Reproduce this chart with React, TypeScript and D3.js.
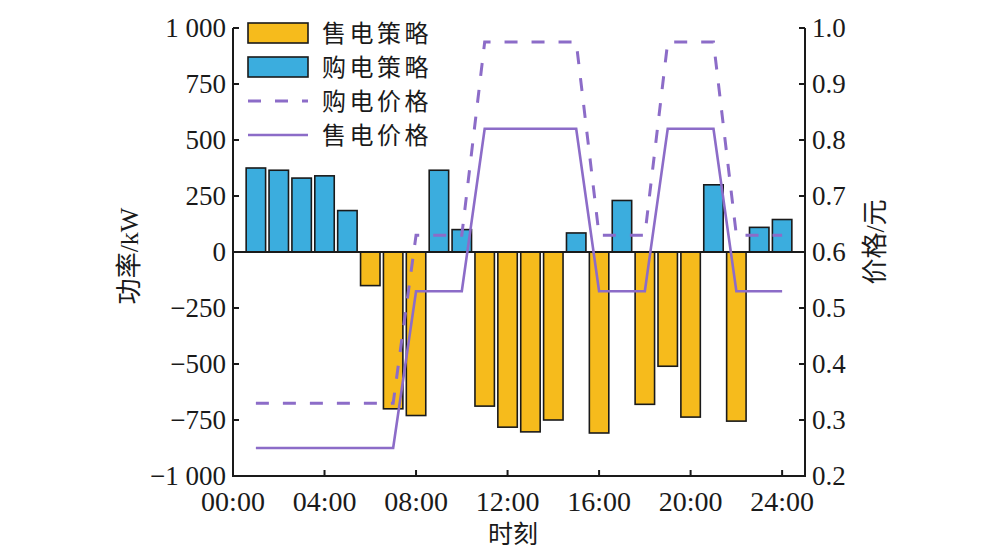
import React from "react";
import * as d3 from "d3";

const W = 998;
const H = 560;
const M = { left: 233, right: 805, top: 28, bottom: 476 };

// hourly strategy, kW (positive = buy, negative = sell)
const hours = d3.range(1, 25);
const power = [
  375, 365, 330, 340, 185, -150, -700, -730, 365, 100, -688, -782,
  -803, -750, 85, -808, 230, -680, -510, -737, 300, -755, 110, 145,
];

// price curves, yuan
const buyPrice: [number, number][] = [
  [1, 0.33], [7, 0.33], [8, 0.63], [10, 0.63], [11, 0.975], [15, 0.975],
  [16, 0.63], [18, 0.63], [19, 0.975], [21, 0.975], [22, 0.63], [24, 0.63],
];
const sellPrice: [number, number][] = [
  [1, 0.25], [7, 0.25], [8, 0.53], [10, 0.53], [11, 0.82], [15, 0.82],
  [16, 0.53], [18, 0.53], [19, 0.82], [21, 0.82], [22, 0.53], [24, 0.53],
];

const xTicks = [0, 4, 8, 12, 16, 20, 24];
const yTicks = [-1000, -750, -500, -250, 0, 250, 500, 750, 1000];
const pTicks = [0.2, 0.3, 0.4, 0.5, 0.6, 0.7, 0.8, 0.9, 1.0];

const ORANGE = "#f6bb1c";
const BLUE = "#3badde";
const PURPLE = "#8c6cc8";
const INK = "#1a1a1a";
const FONT = "'Liberation Serif', 'DejaVu Serif', serif";
const CJK = "'Liberation Serif', 'Noto Sans CJK SC', serif";

const fmtPow = (v: number) => {
  const a = Math.abs(v);
  const s = a >= 1000 ? `${Math.floor(a / 1000)} ${String(a % 1000).padStart(3, "0")}` : String(a);
  return v < 0 ? `\u2212${s}` : s;
};
const fmtHour = (h: number) => `${String(h).padStart(2, "0")}:00`;

export default function App() {
  const x = d3.scaleLinear().domain([0, 25]).range([M.left, M.right]);
  const y = d3.scaleLinear().domain([-1000, 1000]).range([M.bottom, M.top]);
  const yp = d3.scaleLinear().domain([0.2, 1.0]).range([M.bottom, M.top]);
  const bw = (x(1) - x(0)) * 0.85;

  const line = d3.line<[number, number]>().x(d => x(d[0])).y(d => yp(d[1]));

  return (
    <div style={{ position: "absolute", left: 0, top: 0 }}>
      <svg width={W} height={H} style={{ background: "#fff", display: "block" }}>
        {/* bars */}
        {hours.map((h, i) => {
          const v = power[i];
          return (
            <rect
              key={h}
              x={x(h) - bw / 2}
              y={Math.min(y(v), y(0))}
              width={bw}
              height={Math.abs(y(v) - y(0))}
              fill={v >= 0 ? BLUE : ORANGE}
              stroke={INK}
              strokeWidth={1.6}
            />
          );
        })}
        <line x1={M.left} x2={M.right} y1={y(0)} y2={y(0)} stroke={INK} strokeWidth={2} />

        {/* price lines */}
        <path d={line(buyPrice) || ""} fill="none" stroke={PURPLE} strokeWidth={3} strokeDasharray="13 14" />
        <path d={line(sellPrice) || ""} fill="none" stroke={PURPLE} strokeWidth={2.6} />

        {/* axes */}
        <path
          d={`M${M.left},${M.top}V${M.bottom}H${M.right}V${M.top}`}
          fill="none"
          stroke={INK}
          strokeWidth={2}
        />
        {yTicks.map(t => (
          <g key={t}>
            <line x1={M.left} x2={M.left + 6} y1={y(t)} y2={y(t)} stroke={INK} strokeWidth={2} />
            <text x={M.left - 7} y={y(t)} dy="0.34em" textAnchor="end" fontFamily={FONT} fontSize={27} fill={INK}>
              {fmtPow(t)}
            </text>
          </g>
        ))}
        {pTicks.map(t => (
          <g key={t}>
            <line x1={M.right - 6} x2={M.right} y1={yp(t)} y2={yp(t)} stroke={INK} strokeWidth={2} />
            <text x={M.right + 7} y={yp(t)} dy="0.34em" fontFamily={FONT} fontSize={27} fill={INK}>
              {t.toFixed(1)}
            </text>
          </g>
        ))}
        {xTicks.map(t => (
          <g key={t}>
            <line x1={x(t)} x2={x(t)} y1={M.bottom} y2={M.bottom - 6} stroke={INK} strokeWidth={2} />
            <text x={x(t)} y={511} textAnchor="middle" fontFamily={FONT} fontSize={28} fill={INK}>
              {fmtHour(t)}
            </text>
          </g>
        ))}

        {/* axis titles */}
        <text x={513} y={543} textAnchor="middle" fontFamily={CJK} fontSize={25} fill={INK}>
          时刻
        </text>
        <text
          transform={`translate(138,${y(0) + 4}) rotate(-90)`}
          textAnchor="middle"
          fontFamily={CJK}
          fontSize={26}
          fill={INK}
        >
          功率/kW
        </text>
        <text
          transform={`translate(884,242) rotate(-90)`}
          textAnchor="middle"
          fontFamily={CJK}
          fontSize={26}
          fill={INK}
        >
          价格/元
        </text>

        {/* legend */}
        <g fontFamily={CJK} fontSize={24} fill={INK}>
          <rect x={248} y={23} width={60} height={20} fill={ORANGE} stroke={INK} strokeWidth={1.6} />
          <text x={322} y={33} dy="0.36em" letterSpacing={3.5}>售电策略</text>
          <rect x={248} y={57} width={60} height={20} fill={BLUE} stroke={INK} strokeWidth={1.6} />
          <text x={322} y={67} dy="0.36em" letterSpacing={3.5}>购电策略</text>
          <line x1={248} x2={308} y1={101} y2={101} stroke={PURPLE} strokeWidth={3} strokeDasharray="13 14" />
          <text x={322} y={101} dy="0.36em" letterSpacing={3.5}>购电价格</text>
          <line x1={248} x2={308} y1={135} y2={135} stroke={PURPLE} strokeWidth={2.6} />
          <text x={322} y={135} dy="0.36em" letterSpacing={3.5}>售电价格</text>
        </g>
      </svg>
    </div>
  );
}
